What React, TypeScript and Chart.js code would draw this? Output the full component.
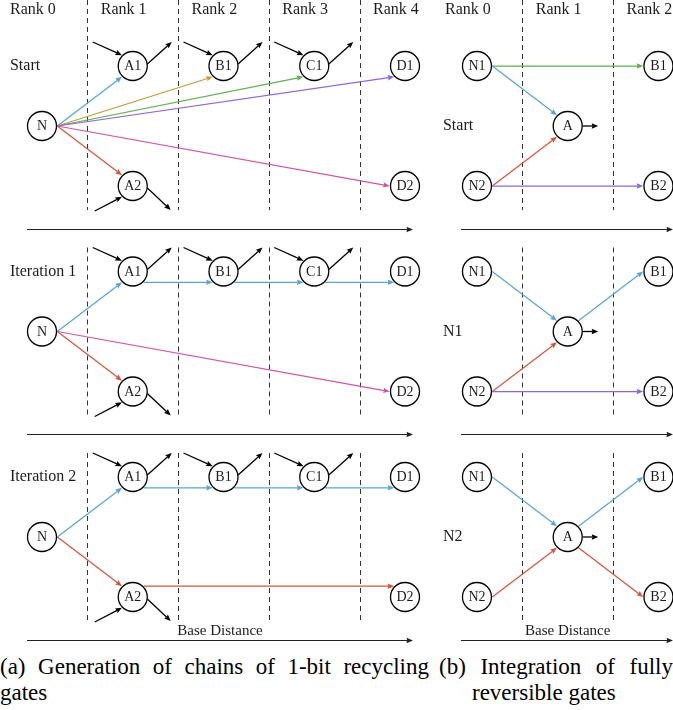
import { useEffect, useRef } from "react";
import { Chart, registerables } from "chart.js";

Chart.register(...registerables);

// ---------- data ----------
const RANK_LABELS_A = ["Rank 0", "Rank 1", "Rank 2", "Rank 3", "Rank 4"];
const RANK_LABELS_B = ["Rank 0", "Rank 1", "Rank 2"];
const SECTION_LABELS_A = ["Start", "Iteration 1", "Iteration 2"];
const SECTION_LABELS_B = ["Start", "N1", "N2"];
const AXIS_LABEL = "Base Distance";

const NODES_A = ["N", "A1", "A2", "B1", "C1", "D1", "D2"];
const NODE_RANK_A = [0, 1, 1, 2, 3, 4, 4];
const NODE_ROW_A = [0, -1, 1, -1, -1, -1, 1];

const NODES_B = ["N1", "N2", "A", "B1", "B2"];
const NODE_RANK_B = [0, 0, 1, 2, 2];
const NODE_ROW_B = [-1, 1, 0, -1, 1];

// edges: [from, fromAnchor, to, toAnchor, colour]
const EDGES_A_START = [
  ["N", "east", "A1", "south west", "blue"],
  ["N", "east", "B1", "south west", "gold"],
  ["N", "east", "C1", "south west", "green"],
  ["N", "east", "D1", "south west", "purple"],
  ["N", "east", "D2", "west", "magenta"],
  ["N", "east", "A2", "north west", "red"],
];
const EDGES_A_ITER1 = [
  ["N", "east", "A1", "south west", "blue"],
  ["N", "east", "A2", "north west", "red"],
  ["N", "east", "D2", "west", "magenta"],
  ["A1", "south east", "B1", "south west", "blue"],
  ["B1", "south east", "C1", "south west", "blue"],
  ["C1", "south east", "D1", "south west", "blue"],
];
const EDGES_A_ITER2 = [
  ["N", "east", "A1", "south west", "blue"],
  ["N", "east", "A2", "north west", "red"],
  ["A1", "south east", "B1", "south west", "blue"],
  ["B1", "south east", "C1", "south west", "blue"],
  ["C1", "south east", "D1", "south west", "blue"],
  ["A2", "north east", "D2", "north west", "red"],
];
const EDGES_B_START = [
  ["N1", "east", "B1", "west", "green"],
  ["N1", "east", "A", "north west", "blue"],
  ["N2", "east", "A", "south west", "red"],
  ["N2", "east", "B2", "west", "purple"],
];
const EDGES_B_N1 = [
  ["N1", "east", "A", "north west", "blue"],
  ["N2", "east", "A", "south west", "red"],
  ["A", "north east", "B1", "west", "blue"],
  ["N2", "east", "B2", "west", "purple"],
];
const EDGES_B_N2 = [
  ["N1", "east", "A", "north west", "blue"],
  ["N2", "east", "A", "south west", "red"],
  ["A", "north east", "B1", "west", "blue"],
  ["A", "south east", "B2", "west", "red"],
];
const EDGES_A = [EDGES_A_START, EDGES_A_ITER1, EDGES_A_ITER2];
const EDGES_B = [EDGES_B_START, EDGES_B_N1, EDGES_B_N2];

// recycling stubs: [node, kind]
const STUBS_A = [["A1", "up"], ["B1", "up"], ["C1", "up"], ["A2", "down"]];
const STUBS_B = [["A", "right"]];

// ---------- layout / style ----------
const PX_PER_RANK = 90.75;
const PX_PER_ROW = 60;
const CANVAS_W = 673;
const CANVAS_H = 650;
const X_MIN = -42 / PX_PER_RANK;
const X_MAX = X_MIN + CANVAS_W / PX_PER_RANK;
const Y_MIN = -126 / PX_PER_ROW;
const Y_MAX = Y_MIN + CANVAS_H / PX_PER_ROW;
const PANEL_B_OFFSET = 4.793;
const SECTION_STEP = 3.425;
const DASH_TOP_FIRST = Y_MIN;
const DASH_TOP = -1.4;
const DASH_BOTTOM = 1.4;
const BASE_ROW = 1.71;
const BASE_LABEL_ROW = 1.57;
const BASE_A = [-0.165, 4.088];
const BASE_B = [-0.176, 2.16];
const RANK_LABEL_ROW = -1.93;
const RANK_LABEL_SHIFT = -0.1;
const SECTION_LABEL_X_A = -0.353;
const SECTION_LABEL_X_B = PANEL_B_OFFSET - 0.375;
const SECTION_LABEL_ROW_A = -1;
const SECTION_LABEL_ROW_B = 0;

const NODE_R = 14.5;
const ANCHOR_R = 15.3;
const SERIF = '"Liberation Serif", "Times New Roman", serif';
const TEXT_COLOR = "#1c1c1c";

const COLORS: Record<string, string> = {
  blue: "#5aa3d5",
  red: "#d4553f",
  gold: "#c49a3c",
  green: "#62ae55",
  purple: "#8b66da",
  magenta: "#cf55a7",
};

const ANCHOR_ANGLE: Record<string, number> = {
  east: 0,
  "south east": 45,
  south: 90,
  "south west": 135,
  west: 180,
  "north west": 225,
  north: 270,
  "north east": 315,
};

// stub geometry in pixel offsets from node centre
const STUB_GEOM: Record<string, { a: [number, number]; b: [number, number] }[]> = {
  up: [
    { a: [-40, -24], b: [-10.8, -10.8] },
    { a: [14.6, -2], b: [39, -24] },
  ],
  down: [
    { a: [-38, 25], b: [-10.8, 10.8] },
    { a: [14.6, 2], b: [38, 24] },
  ],
  right: [{ a: [15, 0], b: [30.5, 0] }],
};

function drawArrow(
  ctx: CanvasRenderingContext2D,
  x1: number,
  y1: number,
  x2: number,
  y2: number,
  color: string,
  lw: number
) {
  const ang = Math.atan2(y2 - y1, x2 - x1);
  const hl = 6.5;
  const hw = 2.7;
  const bx = x2 - hl * Math.cos(ang);
  const by = y2 - hl * Math.sin(ang);
  ctx.save();
  ctx.strokeStyle = color;
  ctx.fillStyle = color;
  ctx.lineWidth = lw;
  ctx.setLineDash([]);
  ctx.beginPath();
  ctx.moveTo(x1, y1);
  ctx.lineTo(bx + 1 * Math.cos(ang), by + 1 * Math.sin(ang));
  ctx.stroke();
  ctx.beginPath();
  ctx.moveTo(x2, y2);
  ctx.lineTo(bx - hw * Math.sin(ang), by + hw * Math.cos(ang));
  ctx.quadraticCurveTo(
    bx + 1.5 * Math.cos(ang),
    by + 1.5 * Math.sin(ang),
    bx + hw * Math.sin(ang),
    by - hw * Math.cos(ang)
  );
  ctx.closePath();
  ctx.fill();
  ctx.restore();
}

export default function App() {
  const ref = useRef<HTMLCanvasElement>(null);

  useEffect(() => {
    const canvas = ref.current!;
    type P = { x: number; y: number; label: string; panel: string; sec: number };
    const points: P[] = [];
    for (let s = 0; s < 3; s++) {
      NODES_A.forEach((n, i) =>
        points.push({ x: NODE_RANK_A[i], y: NODE_ROW_A[i] + s * SECTION_STEP, label: n, panel: "a", sec: s })
      );
      NODES_B.forEach((n, i) =>
        points.push({
          x: PANEL_B_OFFSET + NODE_RANK_B[i],
          y: NODE_ROW_B[i] + s * SECTION_STEP,
          label: n,
          panel: "b",
          sec: s,
        })
      );
    }

    const diagram = {
      id: "diagram",
      beforeDatasetsDraw(chart: any) {
        const ctx: CanvasRenderingContext2D = chart.ctx;
        const xs = chart.scales.x;
        const ys = chart.scales.y;
        const find = (panel: string, sec: number, label: string) => {
          const p = points.find((q) => q.panel === panel && q.sec === sec && q.label === label)!;
          return { x: xs.getPixelForValue(p.x), y: ys.getPixelForValue(p.y) };
        };
        const anchor = (c: { x: number; y: number }, name: string) => {
          const a = (ANCHOR_ANGLE[name] * Math.PI) / 180;
          return { x: c.x + ANCHOR_R * Math.cos(a), y: c.y + ANCHOR_R * Math.sin(a) };
        };

        // dashed rank separators
        ctx.save();
        ctx.strokeStyle = "#333";
        ctx.lineWidth = 1;
        ctx.setLineDash([5, 4]);
        const panels = [
          { off: 0, n: RANK_LABELS_A.length },
          { off: PANEL_B_OFFSET, n: RANK_LABELS_B.length },
        ];
        for (let s = 0; s < 3; s++) {
          const top = s === 0 ? DASH_TOP_FIRST : DASH_TOP + s * SECTION_STEP;
          const bot = DASH_BOTTOM + s * SECTION_STEP;
          panels.forEach((pn) => {
            for (let r = 0; r < pn.n - 1; r++) {
              const x = Math.round(xs.getPixelForValue(pn.off + r + 0.5)) + 0.5;
              ctx.beginPath();
              ctx.moveTo(x, ys.getPixelForValue(top));
              ctx.lineTo(x, ys.getPixelForValue(bot));
              ctx.stroke();
            }
          });
        }
        ctx.restore();

        // base distance arrows
        for (let s = 0; s < 3; s++) {
          const y = Math.round(ys.getPixelForValue(BASE_ROW + s * SECTION_STEP)) + 0.5;
          drawArrow(ctx, xs.getPixelForValue(BASE_A[0]), y, xs.getPixelForValue(BASE_A[1]), y, "#222", 1.2);
          drawArrow(
            ctx,
            xs.getPixelForValue(PANEL_B_OFFSET + BASE_B[0]),
            y,
            xs.getPixelForValue(PANEL_B_OFFSET + BASE_B[1]),
            y,
            "#222",
            1.2
          );
        }

        // coloured edges
        const drawEdges = (panel: string, sets: string[][][]) => {
          sets.forEach((edges, s) => {
            edges.forEach(([f, fa, t, ta, col]) => {
              const p1 = anchor(find(panel, s, f), fa);
              const p2 = anchor(find(panel, s, t), ta);
              drawArrow(ctx, p1.x, p1.y, p2.x, p2.y, COLORS[col], 1.25);
            });
          });
        };
        drawEdges("a", EDGES_A);
        drawEdges("b", EDGES_B);

        // black recycling stubs
        const drawStubs = (panel: string, stubs: string[][]) => {
          for (let s = 0; s < 3; s++) {
            stubs.forEach(([n, kind]) => {
              const c = find(panel, s, n);
              STUB_GEOM[kind].forEach((g) =>
                drawArrow(ctx, c.x + g.a[0], c.y + g.a[1], c.x + g.b[0], c.y + g.b[1], "#000", 1.3)
              );
            });
          }
        };
        drawStubs("a", STUBS_A);
        drawStubs("b", STUBS_B);
      },
      afterDatasetsDraw(chart: any) {
        const ctx: CanvasRenderingContext2D = chart.ctx;
        const xs = chart.scales.x;
        const ys = chart.scales.y;
        ctx.save();
        ctx.fillStyle = TEXT_COLOR;
        ctx.textBaseline = "middle";

        // node labels
        ctx.font = `14px ${SERIF}`;
        ctx.textAlign = "center";
        points.forEach((p) => {
          ctx.fillText(p.label, xs.getPixelForValue(p.x), ys.getPixelForValue(p.y) + 0.5);
        });

        // rank labels
        ctx.font = `16px ${SERIF}`;
        RANK_LABELS_A.forEach((l, i) =>
          ctx.fillText(l, xs.getPixelForValue(i + RANK_LABEL_SHIFT), ys.getPixelForValue(RANK_LABEL_ROW))
        );
        RANK_LABELS_B.forEach((l, i) =>
          ctx.fillText(
            l,
            xs.getPixelForValue(PANEL_B_OFFSET + i + RANK_LABEL_SHIFT),
            ys.getPixelForValue(RANK_LABEL_ROW)
          )
        );

        // base distance labels (bottom section only)
        ctx.font = `15px ${SERIF}`;
        const by = ys.getPixelForValue(BASE_LABEL_ROW + 2 * SECTION_STEP);
        ctx.fillText(AXIS_LABEL, xs.getPixelForValue((BASE_A[0] + BASE_A[1]) / 2 - 0.0), by);
        ctx.fillText(AXIS_LABEL, xs.getPixelForValue(PANEL_B_OFFSET + 1), by);

        // section labels
        ctx.font = `16px ${SERIF}`;
        ctx.textAlign = "left";
        SECTION_LABELS_A.forEach((l, s) =>
          ctx.fillText(l, xs.getPixelForValue(SECTION_LABEL_X_A), ys.getPixelForValue(SECTION_LABEL_ROW_A + s * SECTION_STEP))
        );
        SECTION_LABELS_B.forEach((l, s) =>
          ctx.fillText(l, xs.getPixelForValue(SECTION_LABEL_X_B), ys.getPixelForValue(SECTION_LABEL_ROW_B + s * SECTION_STEP))
        );
        ctx.restore();
      },
    };

    const chart = new Chart(canvas, {
      type: "scatter",
      data: {
        datasets: [
          {
            data: points as any,
            pointRadius: NODE_R,
            pointHoverRadius: NODE_R,
            pointBackgroundColor: "#fff",
            pointBorderColor: "#000",
            pointBorderWidth: 1.3,
            pointHoverBorderWidth: 1.3,
            clip: false as any,
          },
        ],
      },
      options: {
        animation: false,
        responsive: false,
        devicePixelRatio: 1,
        events: [],
        layout: { padding: 0, autoPadding: false },
        plugins: { legend: { display: false }, tooltip: { enabled: false } },
        scales: {
          x: { type: "linear", min: X_MIN, max: X_MAX, display: false },
          y: { type: "linear", reverse: true, min: Y_MIN, max: Y_MAX, display: false },
        },
      },
      plugins: [diagram],
    });
    return () => chart.destroy();
  }, []);

  const capStyle: React.CSSProperties = {
    position: "absolute",
    top: 654,
    fontFamily: SERIF,
    fontSize: 23,
    lineHeight: "26px",
    textAlign: "justify",
    color: "#000",
  };

  return (
    <div style={{ position: "absolute", left: 0, top: 0, width: CANVAS_W, height: 710, background: "#fff", overflow: "hidden" }}>
      <canvas ref={ref} width={CANVAS_W} height={CANVAS_H} style={{ position: "absolute", left: 0, top: 0, width: CANVAS_W, height: CANVAS_H }} />
      <div style={{ ...capStyle, left: 0, width: 429 }}>(a) Generation of chains of 1-bit recycling gates</div>
      <div style={{ ...capStyle, left: 439, width: 234 - 33, paddingLeft: 33, textIndent: -33 }}>
        (b) Integration of fully reversible gates
      </div>
    </div>
  );
}
